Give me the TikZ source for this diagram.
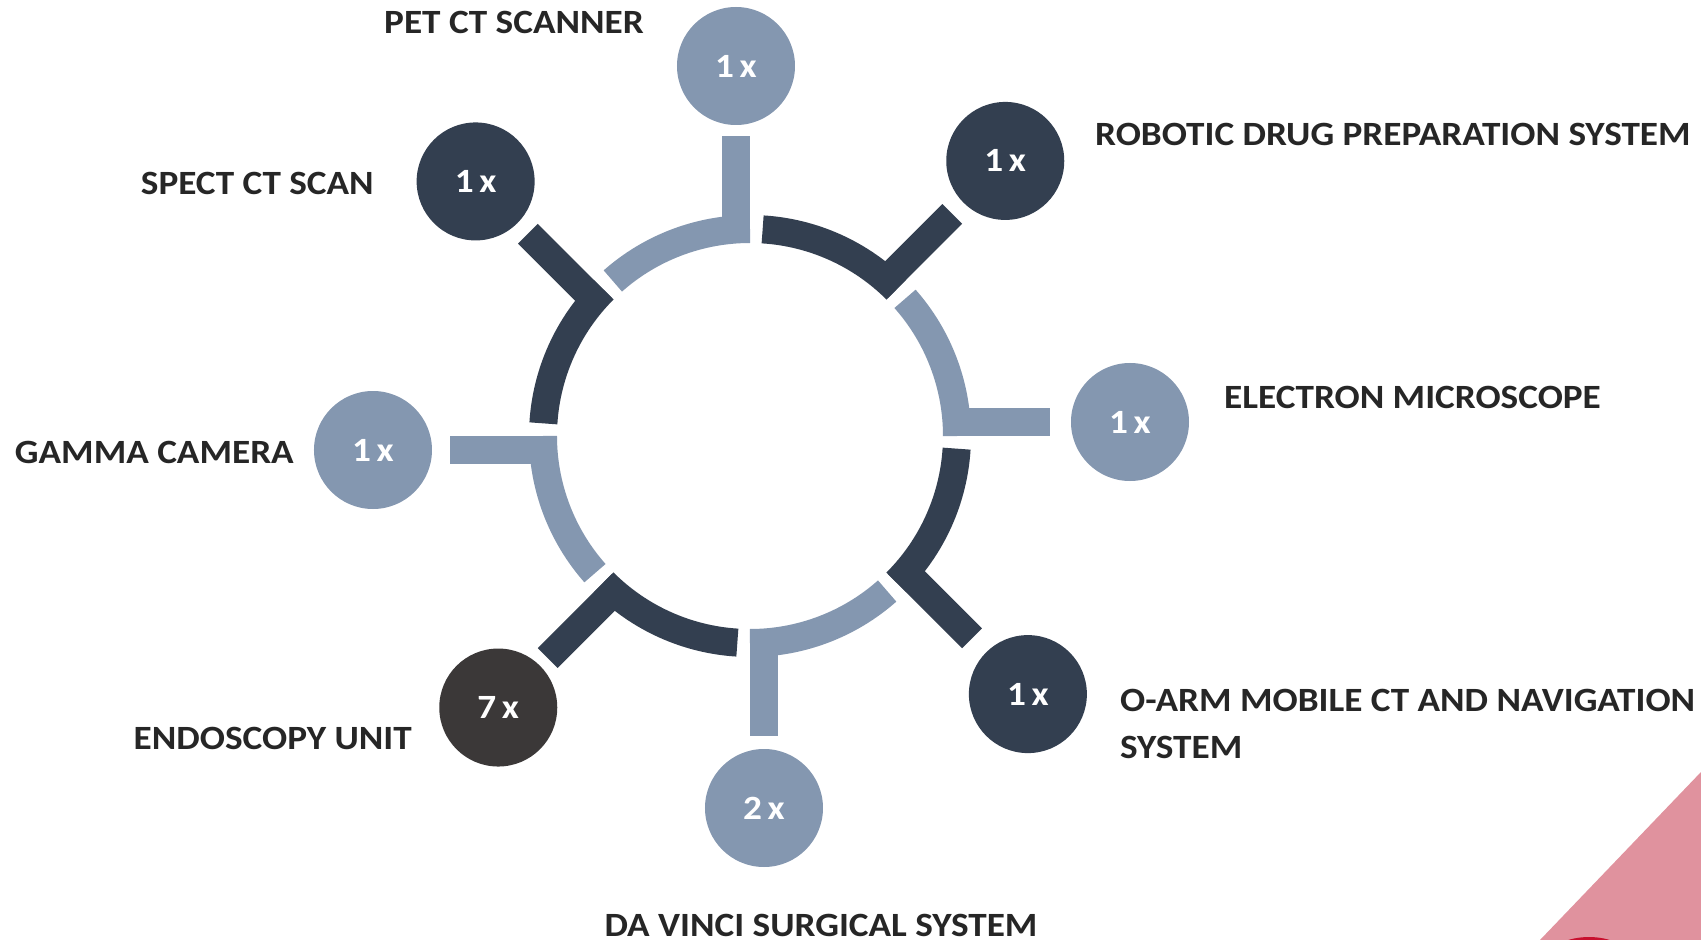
\documentclass[tikz,border=0pt]{standalone}
\usepackage{fontspec}
\setmainfont{Carlito}[FakeStretch=1.095]
\usepackage{xcolor}
\usepackage{tikz}

\definecolor{ringlight}{HTML}{8497B0}
\definecolor{ringdark}{HTML}{333F50}
\definecolor{charcoal}{HTML}{3B3838}
\definecolor{labelgray}{HTML}{262626}
\definecolor{cornerpink}{HTML}{E0929E}
\definecolor{logored}{HTML}{C8102E}

\begin{document}
\begin{tikzpicture}[x=1pt,y=1pt,
    seg/.style={line width=28pt},
    dot/.style={circle,minimum size=118pt,inner sep=0pt,outer sep=0pt,text=white,
      font=\fontsize{34}{40}\selectfont\bfseries},
    lbl/.style={text=labelgray,inner sep=0pt,font=\fontsize{34}{47}\selectfont\bfseries}]
  \clip (-750,-504) rectangle (951,436);
  \fill[white] (-750,-504) rectangle (951,436);
  % corner
  \fill[cornerpink] (790,-504) -- (951,-336) -- (951,-504) -- cycle;
  \fill[logored] (839,-574) circle (73);

  % ring pieces, spokes and counts
  \foreach \ang/\dist/\col/\fil/\nm/\cnt in {90/370/ringlight/ringlight/pet/1,
      45/375/ringdark/ringdark/robot/1, 0/380/ringlight/ringlight/em/1,
      -45/379/ringdark/ringdark/oarm/1, -90/372/ringlight/ringlight/davinci/2,
      -135/370/ringdark/charcoal/endo/7, 180/377/ringlight/ringlight/gamma/1,
      135/374/ringdark/ringdark/spect/1}{
    \draw[seg,\col] ({\ang+41.5}:207) arc[start angle=\ang+41.5, end angle=\ang, radius=207];
    \path[rotate=\ang] (195,14) coordinate (r\nm) (\dist,14) node[dot,fill=\fil] (\nm) {\cnt\,x};
    \draw[seg,\col,shorten >={(\dist-359)*1pt}] (r\nm) -- (\nm);
  }

  % labels
  \node[lbl,anchor=base east] (petlbl) at (-106,402.7) {PET CT SCANNER};
  \node[lbl,anchor=base east] (spectlbl) at (-376,241) {SPECT CT SCAN};
  \node[lbl,anchor=base west] (robotlbl) at (345,290) {ROBOTIC DRUG PREPARATION SYSTEM};
  \node[lbl,anchor=base west] (emlbl) at (474,27.7) {ELECTRON MICROSCOPE};
  \node[lbl,anchor=base east] (gammalbl) at (-456,-27) {GAMMA CAMERA};
  \node[lbl,anchor=base east] (endolbl) at (-338,-313) {ENDOSCOPY UNIT};
  \node[lbl,anchor=base west,align=left] (oarmlbl) at (370,-322) {O-ARM MOBILE CT AND NAVIGATION\\SYSTEM};
  \node[lbl,anchor=base] (davincilbl) at (71,-500) {DA VINCI SURGICAL SYSTEM};
\end{tikzpicture}
\end{document}
